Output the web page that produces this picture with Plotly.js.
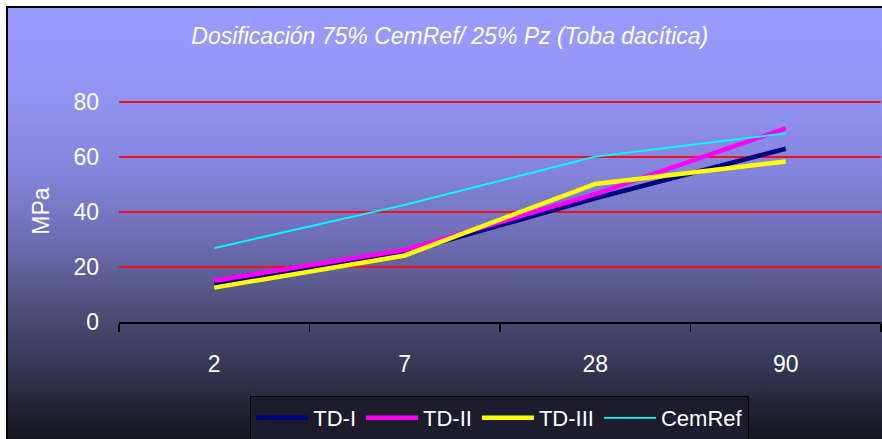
<!DOCTYPE html>
<html>
<head>
<meta charset="utf-8">
<script src="https://cdn.plot.ly/plotly-3.0.1.min.js"></script>
<style>
  html, body { margin: 0; padding: 0; background: #ffffff; }
  #wrap { position: relative; width: 882px; height: 439px; overflow: hidden; background: #ffffff; }
  #frame {
    position: absolute; left: 6px; top: 6px; right: 0; bottom: 0;
    border-left: 2px solid #000; border-top: 2px solid #000;
    background: linear-gradient(to bottom,
      #9b9bff 0px, #9393f2 92px, #8282d8 172px, #6b6bb0 237px,
      #53537f 292px, #39395a 352px, #27273c 392px, #15151f 431px);
  }
  #chart { position: absolute; left: 0; top: 0; width: 882px; height: 439px; }
</style>
</head>
<body>
<div id="wrap">
  <div id="frame"></div>
  <div id="chart"></div>
</div>
<script>
// Data
const dias = ['2', '7', '28', '90'];
const tdI = [14.0, 25.3, 45.0, 63.0];
const tdII = [15.0, 26.2, 46.5, 70.4];
const tdIII = [12.5, 24.2, 50.2, 58.4];
const cemRef = [26.9, 42.6, 60.1, 68.6];
const seriesNames = ['TD-I', 'TD-II', 'TD-III', 'CemRef'];
const yTicks = [0, 20, 40, 60, 80];

const FONT = 'Arial, "Liberation Sans", sans-serif';

const traces = [
  { x: dias, y: tdI, name: seriesNames[0], type: 'scatter', mode: 'lines',
    line: { color: '#000080', width: 4.5 } },
  { x: dias, y: tdII, name: seriesNames[1], type: 'scatter', mode: 'lines',
    line: { color: '#ff00ff', width: 4.5 } },
  { x: dias, y: tdIII, name: seriesNames[2], type: 'scatter', mode: 'lines',
    line: { color: '#ffff00', width: 4.5 } },
  { x: dias, y: cemRef, name: seriesNames[3], type: 'scatter', mode: 'lines',
    line: { color: '#00ffff', width: 1.8 } }
];

const layout = {
  width: 882, height: 439,
  margin: { l: 118.5, r: 1, t: 100, b: 117, autoexpand: false },
  paper_bgcolor: 'rgba(0,0,0,0)',
  plot_bgcolor: 'rgba(0,0,0,0)',
  font: { family: FONT, color: '#ffffff', size: 23 },
  title: {
    text: '<i>Dosificación 75% CemRef/ 25% Pz (Toba dacítica)</i>',
    font: { family: FONT, size: 23, color: '#ffffff' },
    x: 0.51, xref: 'container', xanchor: 'center',
    y: 0.918, yref: 'container', yanchor: 'middle'
  },
  xaxis: {
    type: 'category',
    range: [-0.5, 3.5],
    showgrid: false,
    showline: true, linecolor: '#000000', linewidth: 1.5,
    ticks: 'outside', tickson: 'boundaries', ticklen: 8, tickwidth: 1.5, tickcolor: '#000000',
    tickfont: { family: FONT, size: 23, color: '#ffffff' },
    ticklabelstandoff: 21,
    zeroline: false, fixedrange: true, automargin: false
  },
  yaxis: {
    range: [0, 80.727],
    tickvals: yTicks,
    ticktext: yTicks.map(String),
    showgrid: true, gridcolor: '#f01020', gridwidth: 2,
    zeroline: false, showline: false, ticks: '',
    tickfont: { family: FONT, size: 23, color: '#ffffff' },
    ticklabelstandoff: 19,
    title: { text: 'MPa', font: { family: FONT, size: 23, color: '#ffffff' }, standoff: 17 },
    fixedrange: true, automargin: false
  },
  showlegend: true,
  legend: {
    orientation: 'h',
    x: 0.4997, xanchor: 'center',
    y: -0.3333, yanchor: 'top',
    bgcolor: '#1c1c2c', bordercolor: '#000000', borderwidth: 1,
    font: { family: FONT, size: 22, color: '#ffffff' },
    itemwidth: 52
  }
};

Plotly.newPlot('chart', traces, layout, { displayModeBar: false, staticPlot: true });
</script>
</body>
</html>
